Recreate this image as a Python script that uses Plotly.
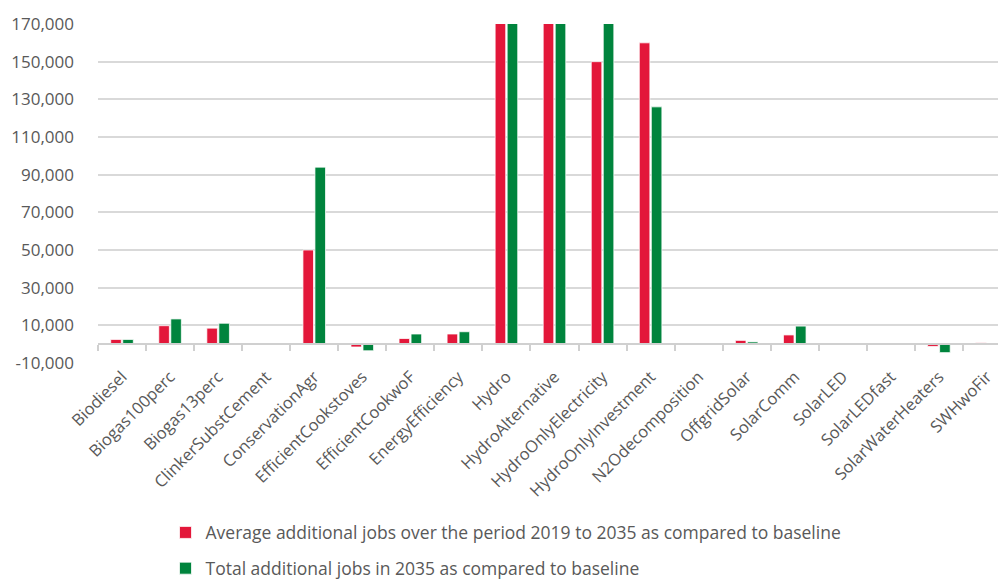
import plotly.graph_objects as go

categories = ["Biodiesel", "Biogas100perc", "Biogas13perc", "ClinkerSubstCement",
              "ConservationAgr", "EfficientCookstoves", "EfficientCookwoF",
              "EnergyEfficiency", "Hydro", "HydroAlternative", "HydroOnlyElectricity",
              "HydroOnlyInvestment", "N2Odecomposition", "OffgridSolar", "SolarComm",
              "SolarLED", "SolarLEDfast", "SolarWaterHeaters", "SWHwoFir"]

avg_jobs = [2500, 9800, 8500, 0, 50000, -1500, 3000, 5400, 200000, 200000, 150000,
            160000, 0, 2000, 4900, 0, 0, -1200, 700]
total_jobs = [2500, 13400, 11100, 0, 94000, -3500, 5400, 6600, 200000, 200000, 200000,
              126000, 0, 1200, 9600, 0, 0, -4500, 0]

y_ticks = [-10000, 10000, 30000, 50000, 70000, 90000, 110000, 130000, 150000, 170000]
y_labels = [f"{v:,}" for v in y_ticks]

name_avg = "Average additional jobs over the period 2019 to 2035 as compared to baseline"
name_tot = "Total additional jobs in 2035 as compared to baseline"

RED = "#E3173A"
GREEN = "#00843D"
FONT = "Open Sans"
GREY_TXT = "#595959"
GRID = "#D9D9D9"

fig = go.Figure()
fig.add_bar(x=categories, y=avg_jobs, name=name_avg, legendgroup="a",
            marker=dict(color=RED, line=dict(color="white", width=0.75)))
fig.add_bar(x=categories, y=total_jobs, name=name_tot, legendgroup="b",
            marker=dict(color=GREEN, line=dict(color="white", width=0.75)))
# invisible helper trace for the zero-line axis with tick marks
fig.add_scatter(x=categories, y=[0] * len(categories), xaxis="x2", mode="markers",
                marker=dict(opacity=0), showlegend=False, hoverinfo="skip")

ymin, ymax = -10000, 170000
xr = [-0.5, 18.23]
zero_pos = (0 - ymin) / (ymax - ymin)

fig.update_layout(
    width=998, height=581,
    margin=dict(l=98, r=0, t=24, b=218, autoexpand=False),
    paper_bgcolor="white", plot_bgcolor="white",
    barmode="group", bargap=0.5, bargroupgap=0.12,
    font=dict(family=FONT, size=16, color=GREY_TXT),
    xaxis=dict(type="category", categoryorder="array", categoryarray=categories,
               range=xr, tickangle=-45, showgrid=False, showline=False,
               ticks="", automargin=False,
               tickfont=dict(family=FONT, size=16.5, color=GREY_TXT)),
    xaxis2=dict(type="category", categoryorder="array", categoryarray=categories,
                range=xr, overlaying="x", anchor="free", position=zero_pos,
                side="bottom", showticklabels=False, showgrid=False,
                showline=True, linecolor="#D0D0D0", linewidth=1.5,
                ticks="outside", tickson="boundaries", ticklen=6,
                tickcolor="#D0D0D0", tickwidth=1.5),
    yaxis=dict(range=[ymin, ymax], tickvals=y_ticks, ticktext=y_labels,
               showgrid=True, gridcolor=GRID, gridwidth=1.5, zeroline=False,
               showline=False, ticks="", ticklabelstandoff=23, automargin=False,
               tickfont=dict(family=FONT, size=17, color=GREY_TXT)),
    legend=dict(orientation="v", x=0.075, xanchor="left", y=-0.447, yanchor="top",
                font=dict(family=FONT, size=17.5, color=GREY_TXT),
                traceorder="grouped", tracegroupgap=10,
                bgcolor="rgba(0,0,0,0)"),
)

fig.write_html("out.html")
